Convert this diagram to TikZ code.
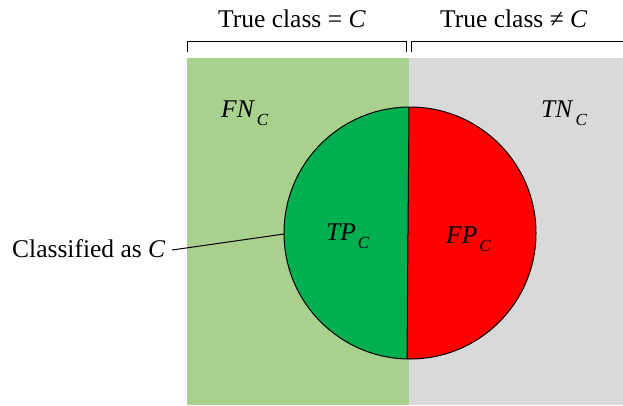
\documentclass[tikz,border=0pt]{standalone}
\usepackage{fontspec}
\setmainfont{Liberation Serif}
\definecolor{lgreen}{HTML}{A9D18E}
\definecolor{lgray}{HTML}{D9D9D9}
\definecolor{dgreen}{HTML}{00B050}
\definecolor{dred}{HTML}{FF0000}
\newcommand\subC{\hspace{2pt}\raisebox{-8pt}{\fontsize{17}{17}\selectfont\textit{C}}}
\begin{document}
\begin{tikzpicture}[x=1pt,y=-1pt,
  lbl/.style={font=\fontsize{25.5}{30}\selectfont, inner sep=0pt, anchor=base west},
  brk/.style={draw=black, line width=1pt}]
\useasboundingbox (0,0) rectangle (623,405);
\fill[lgreen] (187,58) rectangle (409,405);
\fill[lgray] (409,58) rectangle (623,405);
\coordinate (cc) at (410,233);
\begin{scope}
  \clip (cc) circle (126);
  \fill[dgreen] (283,100) -- (409,100) -- (407,366) -- (283,366) -- cycle;
  \fill[dred] (409,100) -- (540,100) -- (540,366) -- (407,366) -- cycle;
\end{scope}
\draw[line width=1pt] (cc) circle (126);
\coordinate (vt) at (409,107);
\coordinate (vb) at (407,359);
\draw[line width=1pt] (vt) -- (vb);
% brackets
\draw[brk] (187,52) -- (187,41) -- (406,41) -- (406,52);
\draw[brk] (411,52) -- (411,41) -- (623,41);
\node[lbl] (t1) at (218,27) {True class = \textit{C}};
\node[lbl] (t2) at (440,27) {True class ≠ \textit{C}};
\node[lbl] (fn) at (221,117) {\textit{FN}\subC};
\node[lbl] (tn) at (541,117) {\textit{TN}\subC};
\node[lbl] (tp) at (326,240) {\textit{TP}\subC};
\node[lbl] (fp) at (446,243) {\textit{FP}\subC};
\node[lbl] (cl) at (12,257) {Classified as \textit{C}};
\coordinate (cs) at (172,250);
\coordinate (ce) at (284,234);
\draw[line width=1pt] (cs) -- (ce);
\end{tikzpicture}
\end{document}
